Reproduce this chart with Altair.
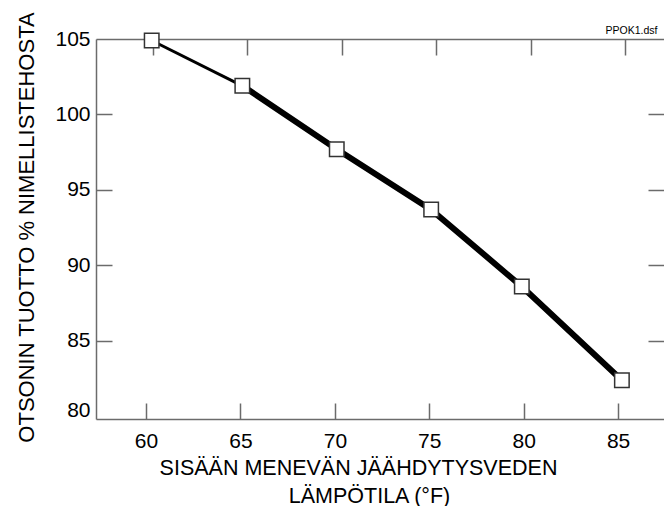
import altair as alt
import pandas as pd

# Inlet cooling-water temperature (°F) and ozone output (% of rated capacity)
temp_f = [60.3, 65.1, 70.1, 75.1, 79.9, 85.2]
ozone_pct = [104.9, 101.9, 97.7, 93.7, 88.6, 82.4]

x_ticks = [60, 65, 70, 75, 80, 85]
y_labels = [80, 85, 90, 95, 100, 105]
y_inner_ticks = [85, 90, 95, 100]

title_x_line1 = "SISÄÄN MENEVÄN JÄÄHDYTYSVEDEN"
title_x_line2 = "LÄMPÖTILA (°F)"
title_y = "OTSONIN TUOTTO % NIMELLISTEHOSTA"
file_tag = "PPOK1.dsf"

df = pd.DataFrame({"temp": temp_f, "ozone": ozone_pct})

W, H = 568, 380
FONT = "Liberation Sans"
AX = "#6b6b6b"

x_scale = alt.Scale(domain=[57.35, 87.43], nice=False, zero=False)
y_scale = alt.Scale(domain=[79.83, 105], nice=False, zero=False)

base = alt.Chart(df)

# Layer 1: thin first segment, carries the labelled bottom/left axes
x_main = alt.Axis(
    orient="bottom", values=x_ticks, grid=False, ticks=False, tickSize=0,
    domain=True, domainColor=AX, domainWidth=1.5,
    labelFont=FONT, labelFontSize=21, labelColor="black", labelPadding=11,
    title=title_x_line1, titleFont=FONT, titleFontSize=21.5, titleFontWeight="normal",
    titleColor="black", titleX=262, titleY=55, titleAlign="center",
    titleBaseline="alphabetic", titleAnchor="middle",
)
y_main = alt.Axis(
    orient="left", values=y_labels, grid=False, ticks=False, tickSize=0,
    domain=True, domainColor=AX, domainWidth=1.5,
    labelFont=FONT, labelFontSize=21, labelColor="black", labelPadding=6,
    labelBaseline={"condition": {"test": "datum.value == 80", "value": "alphabetic"},
                   "value": "middle"},
    title=title_y, titleFont=FONT, titleFontSize=22, titleFontWeight="normal",
    titleColor="black", titleAngle=-90, titleX=-63, titleY=188,
    titleAlign="center", titleBaseline="alphabetic",
)
seg_thin = base.transform_filter(alt.datum.temp <= 66).mark_line(
    color="black", strokeWidth=3
).encode(
    x=alt.X("temp:Q", scale=x_scale, axis=x_main),
    y=alt.Y("ozone:Q", scale=y_scale, axis=y_main),
)

# Layer 2: thick remaining segments, inward ticks along bottom and left edges
x_bottom_ticks = alt.Axis(
    orient="top", offset=-H, values=x_ticks, grid=False, labels=False,
    domain=False, ticks=True, tickSize=16, tickColor=AX, tickWidth=1.5,
    title=title_x_line2, titleFont=FONT, titleFontSize=21.5, titleFontWeight="normal",
    titleColor="black", titleX=273, titleY=83, titleAlign="center",
    titleBaseline="alphabetic", titleAnchor="middle",
)
y_left_ticks = alt.Axis(
    orient="right", offset=-W, values=y_inner_ticks, grid=False, labels=False,
    domain=False, ticks=True, tickSize=16, tickColor=AX, tickWidth=1.5, title=None,
)
seg_thick = base.transform_filter(alt.datum.temp >= 65).mark_line(
    color="black", strokeWidth=6
).encode(
    x=alt.X("temp:Q", scale=x_scale, axis=x_bottom_ticks),
    y=alt.Y("ozone:Q", scale=y_scale, axis=y_left_ticks),
)

# Layer 3: square markers, top frame line with inward ticks, right inward ticks
# and the small file tag in the top-right corner
x_top_ticks = alt.Axis(
    orient="bottom", offset=-H, values=x_ticks, grid=False, labels=False,
    domain=True, domainColor=AX, domainWidth=1.5,
    ticks=True, tickSize=16, tickColor=AX, tickWidth=1.5, tickOffset=7, title=None,
)
y_right_ticks = alt.Axis(
    orient="left", offset=-W, values=y_inner_ticks, grid=False, labels=False,
    domain=False, ticks=True, tickSize=16, tickColor=AX, tickWidth=1.5,
    title=file_tag, titleFont=FONT, titleFontSize=10.5, titleFontWeight="normal",
    titleColor="black", titleAngle=0, titleX=-7, titleY=-6,
    titleAlign="right", titleBaseline="alphabetic",
)
markers = base.mark_point(
    shape="square", filled=True, fill="white", stroke="#333333",
    strokeWidth=1.5, size=210, opacity=1,
).encode(
    x=alt.X("temp:Q", scale=x_scale, axis=x_top_ticks),
    y=alt.Y("ozone:Q", scale=y_scale, axis=y_right_ticks),
)

chart = alt.layer(seg_thin, seg_thick, markers).resolve_axis(
    x="independent", y="independent"
).properties(
    width=W,
    height=H,
    autosize=alt.AutoSizeParams(type="none"),
    padding={"left": 96, "top": 39, "right": 0, "bottom": 87},
    background="white",
).configure_view(stroke=None)

chart.save("out.html", embed_options={"renderer": "svg", "actions": False})
